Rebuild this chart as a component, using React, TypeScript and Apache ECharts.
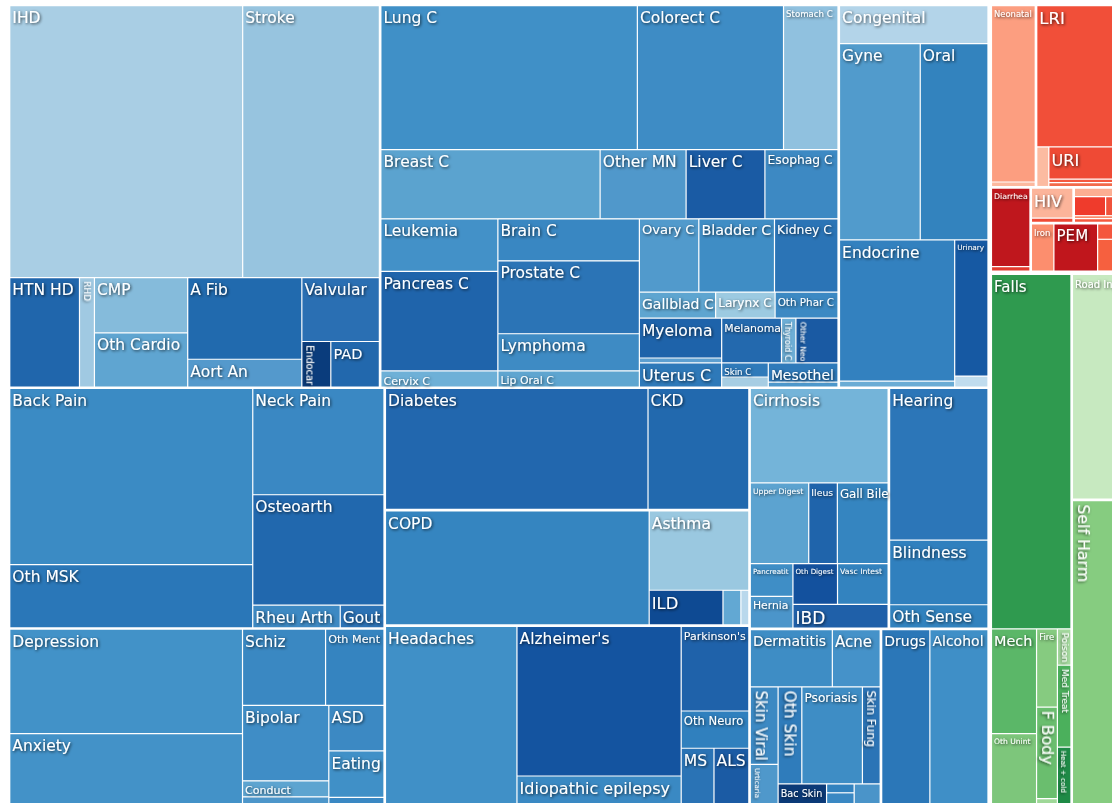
import { useEffect, useRef } from "react";
import * as echarts from "echarts";

// ---------------- DATA (relative burden) ----------------
const cardioCauses = ["IHD", "Stroke", "HTN HD", "RHD", "CMP", "Oth Cardio", "A Fib", "Aort An", "Valvular", "Endocar", "PAD"];
const cardioValues = [63.9, 37.5, 7.7, 1.65, 5.2, 5.1, 9.4, 3.2, 5.0, 1.33, 2.23];

const neoCauses = ["Lung C", "Colorect C", "Stomach C", "Breast C", "Other MN", "Liver C", "Esophag C", "Leukemia", "Pancreas C", "Cervix C", "Brain C", "Prostate C", "Lymphoma", "Lip Oral C", "Ovary C", "Bladder C", "Kidney C", "Gallblad C", "Larynx C", "Oth Phar C", "Myeloma", "Hodgkin", "Uterus C", "Melanoma", "Thyroid C", "Other Neo", "Skin C", "Testis C", "Mesothel", "Nasoph C"];
const neoValues = [37.2, 21.2, 7.9, 15.3, 6.0, 5.5, 5.1, 6.2, 11.75, 1.9, 6.0, 10.4, 5.3, 2.3, 4.4, 5.6, 4.7, 2.0, 1.56, 1.65, 3.3, 0.41, 2.0, 2.7, 0.65, 1.9, 0.66, 0.47, 1.34, 0.35];

const otherNcdCauses = ["Congenital", "Gyne", "Oral", "Endocrine", "Hemog", "Urinary", "SIDS"];
const otherNcdValues = [5.7, 16.1, 13.5, 16.5, 0.7, 4.6, 0.37];

const mskCauses = ["Back Pain", "Oth MSK", "Neck Pain", "Osteoarth", "Rheu Arth", "Gout"];
const mskValues = [43.3, 15.5, 14.1, 14.65, 2.0, 1.0];

const mentalCauses = ["Depression", "Anxiety", "Schiz", "Oth Ment", "Bipolar", "Conduct", "ADHD", "Intel Dis", "ASD", "Eating", "Oth Psych"];
const mentalValues = [24.6, 19.5, 6.4, 4.5, 6.6, 1.4, 0.8, 0.9, 2.55, 2.6, 1.05];

const diabCauses = ["Diabetes", "CKD"];
const diabValues = [32.3, 12.4];

const respCauses = ["COPD", "Asthma", "ILD", "Pneumocon", "Oth Resp"];
const respValues = [30.6, 8.05, 2.6, 0.63, 0.28];

const neuroCauses = ["Headaches", "Alzheimer's", "Idiopathic epilepsy", "Parkinson's", "Oth Neuro", "MS", "ALS"];
const neuroValues = [25.3, 24.9, 6.7, 5.8, 2.55, 2.26, 2.4];

const digestCauses = ["Cirrhosis", "Upper Digest", "Ileus", "Gall Bile", "Pancreatit", "Hernia", "Oth Digest", "Vasc Intest", "IBD"];
const digestValues = [13.25, 4.8, 2.35, 4.17, 1.42, 1.38, 1.85, 2.1, 2.3];

const senseCauses = ["Hearing", "Blindness", "Oth Sense"];
const senseValues = [15.25, 6.5, 2.35];

const skinCauses = ["Dermatitis", "Acne", "Skin Viral", "Urticaria", "Oth Skin", "Psoriasis", "Skin Fung", "Bac Skin", "Scabies", "Decubitus", "Pruritus"];
const skinValues = [4.8, 2.8, 2.2, 1.47, 2.35, 6.0, 1.76, 1.6, 0.25, 0.66, 0.86];

const substanceCauses = ["Drugs", "Alcohol"];
const substanceValues = [9.2, 11.1];

const commCauses = ["Neonatal", "Maternal", "LRI", "Otitis", "URI", "Mening", "Encephal", "Diarrhea", "Typhoid", "HIV", "STI", "Oth Infect", "TB", "Hepatitis", "Tetanus", "NTDs", "Iron", "PEM", "Iodine", "Oth Nutr"];
const commValues = [8.2, 0.21, 13.2, 0.5, 2.6, 0.28, 0.32, 3.26, 0.18, 1.37, 0.2, 0.49, 0.65, 0.43, 0.16, 0.22, 1.13, 2.2, 0.47, 0.97];

const injCauses = ["Falls", "Mech", "Oth Unint", "Fire", "F Body", "Drowning", "Poison", "Med Treat", "Heat + cold", "Road Inj", "Self Harm"];
const injValues = [29.2, 4.9, 3.86, 1.69, 1.98, 0.38, 0.51, 1.15, 0.97, 12.7, 17.8];

// ---------------- STYLE TABLES ----------------
const COLORS: Record<string, string> = {
  IHD: "#a9cee4", Stroke: "#97c4df", "HTN HD": "#2066ac", RHD: "#a0c9e2", CMP: "#85bbdb", "Oth Cardio": "#5fa5d1", "A Fib": "#216aae", "Aort An": "#5499cc", Valvular: "#2a6fb3", Endocar: "#0a3c7c", PAD: "#2268ad",
  "Lung C": "#4090c7", "Colorect C": "#3e8cc5", "Stomach C": "#90c1df", "Breast C": "#5ba3cf", "Other MN": "#5098cb", "Liver C": "#1a5ba4", "Esophag C": "#3d89c3", Leukemia: "#4391c8", "Brain C": "#3987c2", "Pancreas C": "#1f64ab", "Prostate C": "#2b74b6", Lymphoma: "#3e8bc4", "Cervix C": "#6eb0d7", "Lip Oral C": "#5ea5d0", "Ovary C": "#519acc", "Bladder C": "#3f8dc5", "Kidney C": "#2b74b6", "Gallblad C": "#5ea5d0", "Larynx C": "#9ccae1", "Oth Phar C": "#3c89c3", Myeloma: "#1e63aa", Hodgkin: "#5d9fd0", "Uterus C": "#2e79b9", Melanoma: "#2369ae", "Thyroid C": "#6daed6", "Other Neo": "#1a5aa3", "Skin C": "#2f7aba", "Testis C": "#a6cde3", Mesothel: "#2f7aba", "Nasoph C": "#4d97cb",
  Congenital: "#b3d4e9", Gyne: "#519bcc", Oral: "#3383be", Endocrine: "#3381bf", Hemog: "#6aacd5", Urinary: "#1659a3", SIDS: "#c0dcee",
  "Back Pain": "#3b8bc4", "Oth MSK": "#2a77b8", "Neck Pain": "#3a88c3", Osteoarth: "#2168ae", "Rheu Arth": "#3d89c3", Gout: "#2c72b5",
  Depression: "#4292c8", Anxiety: "#4392c8", Schiz: "#3a88c2", "Oth Ment": "#3584c0", Bipolar: "#3f8dc6", Conduct: "#5da4d0", ADHD: "#4d96ca", "Intel Dis": "#3f8dc5", ASD: "#3c89c3", Eating: "#4090c7", "Oth Psych": "#3a88c3",
  Diabetes: "#2267ae", CKD: "#2269ae",
  COPD: "#3585c0", Asthma: "#9ac8e0", ILD: "#0e4a93", Pneumocon: "#62a8d3", "Oth Resp": "#b9d8ec",
  Headaches: "#4090c7", "Alzheimer's": "#1454a0", "Idiopathic epilepsy": "#3a89c3", "Parkinson's": "#1f62aa", "Oth Neuro": "#3080be", MS: "#2a73b5", ALS: "#1b5ba4",
  Cirrhosis: "#74b4d9", "Upper Digest": "#5ca3d0", Ileus: "#1f64ab", "Gall Bile": "#3585c0", Pancreatit: "#3f8ec6", Hernia: "#4b95ca", "Oth Digest": "#13519e", "Vasc Intest": "#3383bf", IBD: "#1f60a9",
  Hearing: "#2c76b8", Blindness: "#3080be", "Oth Sense": "#3182be",
  Dermatitis: "#3e8dc5", Acne: "#4592c9", "Skin Viral": "#3c89c3", Urticaria: "#4f98cb", "Oth Skin": "#2f7cbb", Psoriasis: "#3e8dc5", "Skin Fung": "#2b74b6", "Bac Skin": "#0b3a78", Scabies: "#3282bf", Decubitus: "#3a88c3", Pruritus: "#4a94c9",
  Drugs: "#2b77b8", Alcohol: "#3f8fc7",
  Neonatal: "#fc9e80", Maternal: "#fcb99f", LRI: "#f14f39", Otitis: "#fcbba1", URI: "#ef4a35", Mening: "#f5593f", Encephal: "#f26a4b", Diarrhea: "#bf171d", Typhoid: "#e23a2e", HIV: "#fcb49a", STI: "#ef4a35", "Oth Infect": "#fcae92", TB: "#ef3b2c", Hepatitis: "#f0523b", Tetanus: "#fc8b6b", NTDs: "#f5593f", Iron: "#fc8e6e", PEM: "#c0161c", Iodine: "#f4563e", "Oth Nutr": "#f6603f",
  Falls: "#2f9a4f", Mech: "#5bb768", "Oth Unint": "#7dc67b", Fire: "#86cb80", "F Body": "#6abe6e", Drowning: "#9fd898", Poison: "#a4d99e", "Med Treat": "#4bb05c", "Heat + cold": "#1e8a46", "Road Inj": "#c7e9c0", "Self Harm": "#86cc80",
};

const DEFAULT_FONT = 15.5;
const FONT_SIZE: Record<string, number> = {
  RHD: 9, Endocar: 9.8, PAD: 14.6, "Stomach C": 8.6, "Esophag C": 12.3, "Cervix C": 11.1, "Lip Oral C": 10.9, "Ovary C": 13.1, "Bladder C": 14.3, "Kidney C": 12.4, "Gallblad C": 14, "Larynx C": 12.1, "Oth Phar C": 10.4, Melanoma: 10.9, "Thyroid C": 8.1, "Other Neo": 7.7, "Skin C": 8.6, Mesothel: 13.9, "Uterus C": 16,
  Urinary: 7.3, "Oth Ment": 11.2, Conduct: 11, "Parkinson's": 11, "Oth Neuro": 11.6, "Idiopathic epilepsy": 16, ILD: 16.4,
  "Upper Digest": 7.7, Ileus: 9.3, "Gall Bile": 11.8, Pancreatit: 7.1, "Oth Digest": 7.1, "Vasc Intest": 7.7, Hernia: 10.8, IBD: 17,
  Dermatitis: 14, Acne: 15, "Skin Viral": 15, Psoriasis: 12.2, "Skin Fung": 11.6, Urticaria: 7, "Bac Skin": 9.7, Drugs: 14, Alcohol: 14,
  Neonatal: 8.4, Diarrhea: 7.8, HIV: 16.2, Iron: 8.5, PEM: 15.1, URI: 16.1, LRI: 16.5,
  Falls: 15, "Road Inj": 10, "Self Harm": 15.8, Mech: 14.4, "Oth Unint": 7.6, Fire: 8.5, "F Body": 15.8, Poison: 9.3, "Med Treat": 9, "Heat + cold": 7.1,
};
const ROTATED = new Set(["RHD", "Endocar", "Thyroid C", "Other Neo", "Skin Viral", "Oth Skin", "Skin Fung", "Urticaria", "Self Harm", "F Body", "Poison", "Med Treat", "Heat + cold"]);
const NO_LABEL = new Set(["Hodgkin", "Testis C", "Nasoph C", "Hemog", "SIDS", "ADHD", "Intel Dis", "Oth Psych", "Pneumocon", "Oth Resp", "Scabies", "Decubitus", "Pruritus", "Maternal", "Otitis", "Mening", "Encephal", "Typhoid", "STI", "Oth Infect", "TB", "Hepatitis", "Tetanus", "NTDs", "Iodine", "Oth Nutr", "Drowning"]);

// ---------------- LAYOUT STRUCTURE (cut directions only) ----------------
type Spec = string | { d: "H" | "V"; c: Spec[]; group?: string; lvl?: number };
const V = (...c: Spec[]): Spec => ({ d: "V", c });
const H = (...c: Spec[]): Spec => ({ d: "H", c });
const G = (group: string, lvl: number, s: Spec): Spec => ({ ...(s as any), group, lvl });

const LAYOUT: Spec = V(
  G("Non-communicable", 1, H(
    V(
      G("Cardiovascular", 2, H(V("IHD", "Stroke"), V("HTN HD", "RHD", H("CMP", "Oth Cardio"), H("A Fib", "Aort An"), H("Valvular", V("Endocar", "PAD"))))),
      G("Neoplasms", 2, H(
        V("Lung C", "Colorect C", "Stomach C"),
        V("Breast C", "Other MN", "Liver C", "Esophag C"),
        V(
          H("Leukemia", "Pancreas C", "Cervix C"),
          H("Brain C", "Prostate C", "Lymphoma", "Lip Oral C"),
          H(
            V("Ovary C", "Bladder C", "Kidney C"),
            V("Gallblad C", "Larynx C", "Oth Phar C"),
            V(H("Myeloma", "Hodgkin", "Uterus C"), H(V("Melanoma", "Thyroid C", "Other Neo"), V(H("Skin C", "Testis C"), H("Mesothel", "Nasoph C"))))
          )
        )
      )),
      G("Other NCD", 2, H("Congenital", V("Gyne", "Oral"), V(H("Endocrine", "Hemog"), H("Urinary", "SIDS"))))
    ),
    V(
      H(
        G("Musculoskeletal", 2, V(H("Back Pain", "Oth MSK"), H("Neck Pain", "Osteoarth", V("Rheu Arth", "Gout")))),
        G("Mental", 2, V(H("Depression", "Anxiety"), H(V("Schiz", "Oth Ment"), V(H("Bipolar", "Conduct", "ADHD", "Intel Dis"), H("ASD", "Eating", "Oth Psych")))))
      ),
      H(
        G("Diabetes & CKD", 2, V("Diabetes", "CKD")),
        G("Chronic respiratory", 2, V("COPD", H("Asthma", V("ILD", "Pneumocon", "Oth Resp")))),
        G("Neurological", 2, V("Headaches", H("Alzheimer's", "Idiopathic epilepsy"), H("Parkinson's", "Oth Neuro", V("MS", "ALS"))))
      ),
      H(
        V(
          G("Digestive", 2, H("Cirrhosis", V("Upper Digest", "Ileus", "Gall Bile"), V(H("Pancreatit", "Hernia"), H(V("Oth Digest", "Vasc Intest"), "IBD")))),
          G("Sense organ", 2, H("Hearing", "Blindness", "Oth Sense"))
        ),
        V(
          G("Skin", 2, H(V("Dermatitis", "Acne"), V(H("Skin Viral", "Urticaria"), H(V("Oth Skin", "Psoriasis", "Skin Fung"), V("Bac Skin", H("Scabies", "Decubitus"), "Pruritus"))))),
          G("Substance use", 2, V("Drugs", "Alcohol"))
        )
      )
    )
  )),
  H(
    G("Communicable", 1, H(
      V(G("Maternal & neonatal", 2, H("Neonatal", "Maternal")), G("Respiratory infections", 2, H("LRI", V("Otitis", H("URI", "Mening", "Encephal"))))),
      V(
        G("Enteric", 2, H("Diarrhea", "Typhoid")),
        H(
          V(G("HIV/STI", 2, H("HIV", "STI")), G("Other infectious", 2, H("Oth Infect", V("TB", "Hepatitis"), "Tetanus", "NTDs"))),
          G("Nutritional", 2, V("Iron", "PEM", H("Iodine", "Oth Nutr")))
        )
      )
    )),
    G("Injuries", 1, V(
      G("Unintentional", 2, H("Falls", V(H("Mech", "Oth Unint"), H("Fire", "F Body", "Drowning"), H("Poison", "Med Treat", "Heat + cold")))),
      H(G("Transport", 2, H("Road Inj")), G("Self-harm", 2, H("Self Harm")))
    ))
  )
);

// ---------------- BUILD TREE ----------------
const VALUE: Record<string, number> = {};
([
  [cardioCauses, cardioValues], [neoCauses, neoValues], [otherNcdCauses, otherNcdValues], [mskCauses, mskValues],
  [mentalCauses, mentalValues], [diabCauses, diabValues], [respCauses, respValues], [neuroCauses, neuroValues],
  [digestCauses, digestValues], [senseCauses, senseValues], [skinCauses, skinValues], [substanceCauses, substanceValues],
  [commCauses, commValues], [injCauses, injValues],
] as [string[], number[]][]).forEach(([n, v]) => n.forEach((name, i) => (VALUE[name] = v[i])));

const SQUARE_RATIO = 1000;
const TINY = 1e-12;
const LEAF_BORDER = 0.6;
const GROUP_BORDER = [0, 1, 0.75];
const STRUCT_STYLE = { borderWidth: 0, gapWidth: 0, borderColor: "#fff" };

function specValue(s: Spec): number {
  return typeof s === "string" ? VALUE[s] : s.c.reduce((a, c) => a + specValue(c), 0);
}

function tinyNode() {
  return {
    name: "",
    value: TINY,
    itemStyle: { color: "rgba(0,0,0,0)", borderColor: "rgba(0,0,0,0)", borderWidth: 0, gapWidth: 0 },
    label: { show: false },
    emphasis: { disabled: true },
  };
}

function leafNode(name: string) {
  const fs = FONT_SIZE[name] ?? DEFAULT_FONT;
  const rot = ROTATED.has(name);
  return {
    name,
    value: VALUE[name],
    itemStyle: { color: COLORS[name], borderColor: "#fff", borderWidth: LEAF_BORDER, gapWidth: 0 },
    label: {
      show: !NO_LABEL.has(name),
      position: rot ? [2, 3] : [2, 3],
      rotate: rot ? -90 : 0,
      align: "left",
      verticalAlign: rot ? "bottom" : "top",
      fontSize: fs,
      lineHeight: Math.round(fs * 1.15),
      fontFamily: "DejaVu Sans, Verdana, sans-serif",
      color: "#fff",
      padding: 0,
      overflow: "none",
      textShadowColor: "rgba(0,0,0,0.75)",
      textShadowBlur: 3,
      textShadowOffsetX: 1,
      textShadowOffsetY: 1,
    },
  };
}

function buildChildren(d: "H" | "V", kids: Spec[], w: number, h: number): any[] {
  if (kids.length === 1) return [build(kids[0], w, h)];
  const first = kids[0];
  const rest = kids.slice(1);
  const vA = specValue(first);
  const vR = rest.reduce((a, c) => a + specValue(c), 0);
  const t = vA + vR;
  let wA = w, hA = h, wR = w, hR = h;
  if (d === "V") { wA = (w * vA) / t; wR = w - wA; } else { hA = (h * vA) / t; hR = h - hA; }
  const nodeA = build(first, wA, hA);
  const nodeR = rest.length === 1 ? build(rest[0], wR, hR) : { name: "", itemStyle: STRUCT_STYLE, children: buildChildren(d, rest, wR, hR) };
  const stacked = (w > h && d === "H") || (w <= h && d === "V");
  return stacked ? [nodeA, nodeR] : [nodeA, tinyNode(), nodeR];
}

function build(s: Spec, w: number, h: number): any {
  if (typeof s === "string") return leafNode(s);
  if (s.group) {
    const b = GROUP_BORDER[s.lvl ?? 2];
    return { name: s.group, itemStyle: { borderWidth: b, borderColor: "#fff", gapWidth: 0 }, children: buildChildren(s.d, s.c, w - 2 * b, h - 2 * b) };
  }
  return { name: "", itemStyle: STRUCT_STYLE, children: buildChildren(s.d, s.c, w, h) };
}

const CHART_W = 1120;
const CHART_H = 814;

export default function App() {
  const ref = useRef<HTMLDivElement>(null);
  useEffect(() => {
    if (!ref.current) return;
    const chart = echarts.init(ref.current, undefined, { renderer: "svg" });
    const root = LAYOUT as { d: "H" | "V"; c: Spec[] };
    chart.setOption({
      animation: false,
      backgroundColor: "#fff",
      series: [
        {
          type: "treemap",
          left: 8,
          top: 4,
          width: CHART_W,
          height: CHART_H,
          squareRatio: SQUARE_RATIO,
          sort: false,
          roam: false,
          nodeClick: false,
          visibleMin: 0,
          breadcrumb: { show: false },
          itemStyle: { borderWidth: 0, gapWidth: 0, borderColor: "#fff" },
          data: buildChildren(root.d, root.c, CHART_W, CHART_H),
        },
      ],
    });
    return () => chart.dispose();
  }, []);
  return (
    <div style={{ position: "absolute", left: 0, top: 0, width: 1112, height: 803, overflow: "hidden", background: "#fff" }}>
      <div ref={ref} style={{ width: 1112, height: 803 }} />
    </div>
  );
}
